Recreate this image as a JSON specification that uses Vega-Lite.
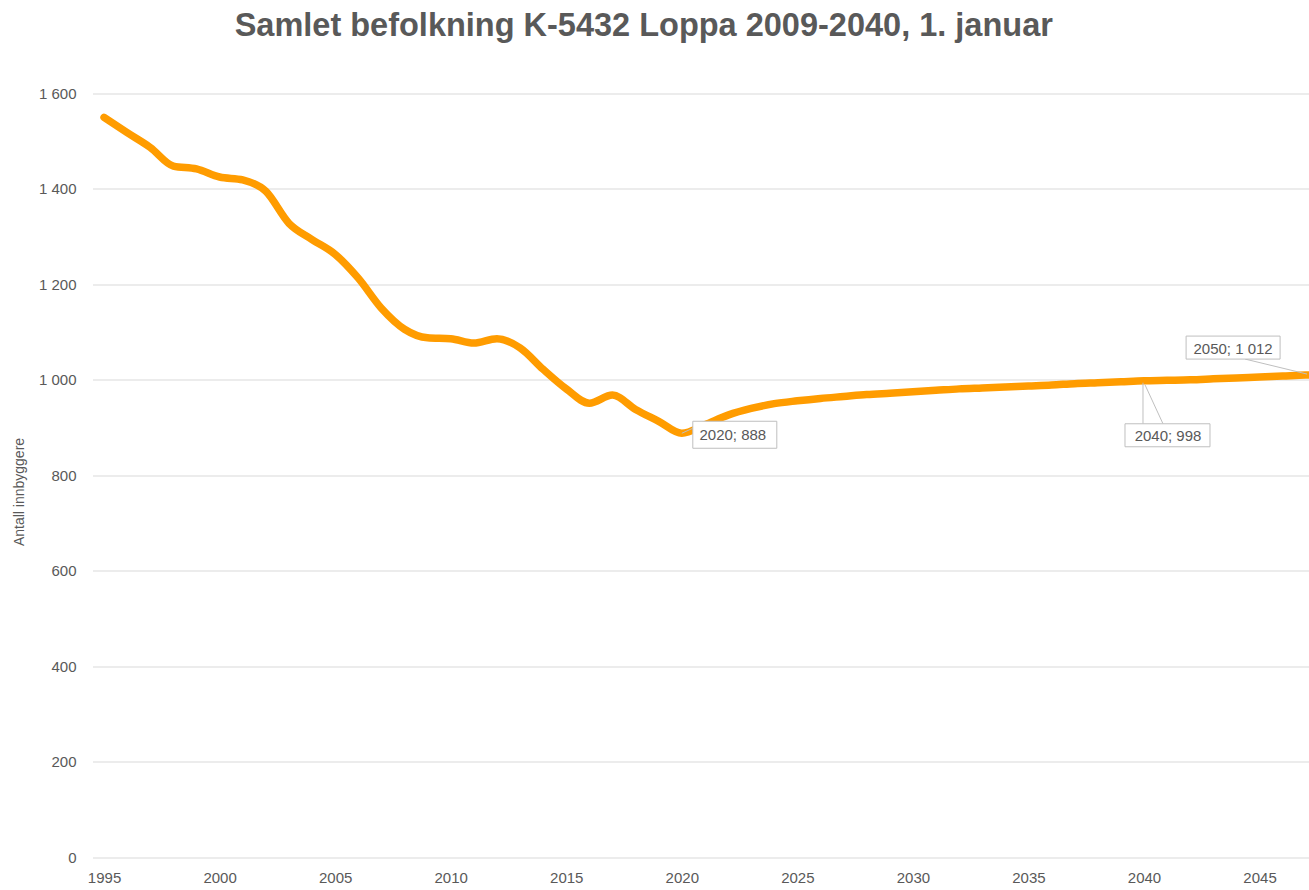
{
  "$schema": "https://vega.github.io/schema/vega-lite/v6.json",
  "width": 1216.5,
  "height": 763.5,
  "autosize": {"type": "none"},
  "padding": {"left": 92.5, "top": 93.5, "right": 0, "bottom": 33},
  "background": "white",
  "title": {
    "text": "Samlet befolkning K-5432 Loppa 2009-2040, 1. januar",
    "anchor": "middle",
    "frame": "group",
    "dx": -57,
    "offset": 44,
    "font": "Liberation Sans",
    "fontSize": 32.5,
    "fontWeight": "bold",
    "color": "#595959"
  },
  "config": {
    "view": {"stroke": null},
    "axis": {
      "labelFont": "Liberation Sans",
      "labelFontSize": 15,
      "labelColor": "#595959",
      "titleFont": "Liberation Sans",
      "titleFontSize": 14,
      "titleFontWeight": "normal",
      "titleColor": "#595959",
      "domain": false,
      "ticks": false,
      "gridColor": "#d9d9d9",
      "gridWidth": 1
    }
  },
  "datasets": {
    "population": [
      {"year": 1995, "inhabitants": 1550},
      {"year": 1996, "inhabitants": 1518},
      {"year": 1997, "inhabitants": 1487},
      {"year": 1998, "inhabitants": 1448},
      {"year": 1999, "inhabitants": 1442},
      {"year": 2000, "inhabitants": 1425},
      {"year": 2001, "inhabitants": 1419},
      {"year": 2002, "inhabitants": 1395},
      {"year": 2003, "inhabitants": 1328},
      {"year": 2004, "inhabitants": 1294},
      {"year": 2005, "inhabitants": 1263},
      {"year": 2006, "inhabitants": 1213},
      {"year": 2007, "inhabitants": 1150},
      {"year": 2008, "inhabitants": 1106},
      {"year": 2009, "inhabitants": 1088},
      {"year": 2010, "inhabitants": 1086},
      {"year": 2011, "inhabitants": 1077},
      {"year": 2012, "inhabitants": 1086},
      {"year": 2013, "inhabitants": 1067},
      {"year": 2014, "inhabitants": 1022},
      {"year": 2015, "inhabitants": 981},
      {"year": 2016, "inhabitants": 951},
      {"year": 2017, "inhabitants": 968},
      {"year": 2018, "inhabitants": 938},
      {"year": 2019, "inhabitants": 913},
      {"year": 2020, "inhabitants": 888},
      {"year": 2021, "inhabitants": 906},
      {"year": 2022, "inhabitants": 926},
      {"year": 2023, "inhabitants": 940},
      {"year": 2024, "inhabitants": 950},
      {"year": 2025, "inhabitants": 956},
      {"year": 2026, "inhabitants": 961},
      {"year": 2027, "inhabitants": 965},
      {"year": 2028, "inhabitants": 969},
      {"year": 2029, "inhabitants": 972},
      {"year": 2030, "inhabitants": 975},
      {"year": 2031, "inhabitants": 978},
      {"year": 2032, "inhabitants": 981},
      {"year": 2033, "inhabitants": 983},
      {"year": 2034, "inhabitants": 985},
      {"year": 2035, "inhabitants": 987},
      {"year": 2036, "inhabitants": 989},
      {"year": 2037, "inhabitants": 992},
      {"year": 2038, "inhabitants": 994},
      {"year": 2039, "inhabitants": 996},
      {"year": 2040, "inhabitants": 998},
      {"year": 2041, "inhabitants": 999},
      {"year": 2042, "inhabitants": 1000},
      {"year": 2043, "inhabitants": 1002},
      {"year": 2044, "inhabitants": 1004},
      {"year": 2045, "inhabitants": 1006},
      {"year": 2046, "inhabitants": 1008},
      {"year": 2047, "inhabitants": 1010},
      {"year": 2048, "inhabitants": 1011},
      {"year": 2049, "inhabitants": 1012},
      {"year": 2050, "inhabitants": 1012}
    ],
    "labels": [
      {"year": 2020, "inhabitants": 888, "label": "2020; 888"},
      {"year": 2040, "inhabitants": 998, "label": "2040; 998"},
      {"year": 2050, "inhabitants": 1012, "label": "2050; 1 012"}
    ]
  },
  "encoding": {
    "x": {
      "field": "year",
      "type": "quantitative",
      "scale": {"domain": [1994.5, 2047.14], "nice": false, "zero": false},
      "axis": {
        "values": [1995, 2000, 2005, 2010, 2015, 2020, 2025, 2030, 2035, 2040, 2045],
        "format": "d",
        "grid": false,
        "title": null,
        "labelPadding": 13,
        "labelFlush": false,
        "labelOverlap": false
      }
    },
    "y": {
      "field": "inhabitants",
      "type": "quantitative",
      "scale": {"domain": [0, 1600], "nice": false},
      "axis": {
        "values": [0, 200, 400, 600, 800, 1000, 1200, 1400, 1600],
        "labelExpr": "replace(format(datum.value, ','), ',', ' ')",
        "title": "Antall innbyggere",
        "labelPadding": 16.5,
        "titleX": -73,
        "titleY": 398,
        "titleAngle": -90,
        "titleBaseline": "middle",
        "titleAlign": "center"
      }
    }
  },
  "layer": [
    {
      "data": {"name": "population"},
      "mark": {"type": "line", "color": "#FF9C00", "strokeWidth": 7.5, "interpolate": "monotone", "clip": true, "strokeCap": "round", "strokeJoin": "round"}
    },
    {
      "data": {"name": "labels"},
      "transform": [{"filter": "datum.year == 2020"}],
      "layer": [
        {"mark": {"type": "point", "shape": "M0,0L11,-5", "size": 4, "filled": false, "stroke": "#bfbfbf", "strokeWidth": 1, "opacity": 1}},
        {"mark": {"type": "point", "shape": "M11,-12H95V15H11Z", "size": 4, "filled": true, "fill": "white", "stroke": "#bfbfbf", "strokeWidth": 1, "opacity": 1}},
        {"mark": {"type": "text", "dx": 51, "dy": 2, "font": "Liberation Sans", "fontSize": 15, "color": "#595959", "align": "center", "baseline": "middle"}, "encoding": {"text": {"field": "label"}}}
      ]
    },
    {
      "data": {"name": "labels"},
      "transform": [{"filter": "datum.year == 2040"}],
      "layer": [
        {"mark": {"type": "point", "shape": "M-1,2V43M1,4L19,43", "size": 4, "filled": false, "stroke": "#bfbfbf", "strokeWidth": 1, "opacity": 1}},
        {"mark": {"type": "point", "shape": "M-19,43H66V66H-19Z", "size": 4, "filled": true, "fill": "white", "stroke": "#bfbfbf", "strokeWidth": 1, "opacity": 1}},
        {"mark": {"type": "text", "dx": 24, "dy": 55, "font": "Liberation Sans", "fontSize": 15, "color": "#595959", "align": "center", "baseline": "middle"}, "encoding": {"text": {"field": "label"}}}
      ]
    },
    {
      "data": {"name": "labels"},
      "transform": [{"filter": "datum.year == 2050"}],
      "layer": [
        {"mark": {"type": "point", "shape": "M-130,-15L-68,0", "size": 4, "filled": false, "stroke": "#bfbfbf", "strokeWidth": 1, "opacity": 1}},
        {"mark": {"type": "point", "shape": "M-189,-38H-95V-15H-189Z", "size": 4, "filled": true, "fill": "white", "stroke": "#bfbfbf", "strokeWidth": 1, "opacity": 1}},
        {"mark": {"type": "text", "dx": -142, "dy": -25, "font": "Liberation Sans", "fontSize": 15, "color": "#595959", "align": "center", "baseline": "middle"}, "encoding": {"text": {"field": "label"}}}
      ]
    }
  ]
}
